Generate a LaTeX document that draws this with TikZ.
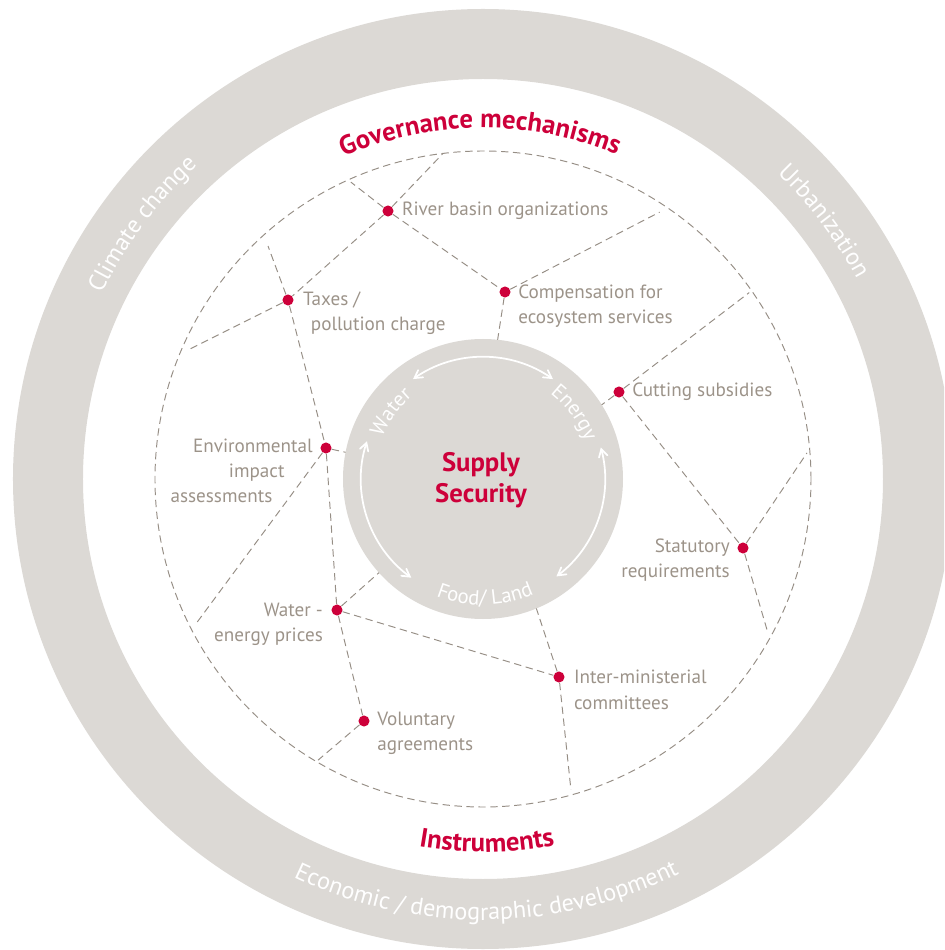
\documentclass[tikz,border=0pt]{standalone}
\usepackage{fontspec}
\setmainfont{PT Sans}
\usetikzlibrary{arrows,positioning,decorations.text}

\definecolor{ringgray}{RGB}{220,217,213}
\definecolor{labelgray}{RGB}{156,147,137}
\definecolor{linegray}{RGB}{150,142,133}
\definecolor{lancetred}{RGB}{205,0,58}

\newcommand\headsize{\fontsize{15.2}{18}\selectfont}
\newcommand\ringsize{\fontsize{13.8}{16}\selectfont}
\newcommand\hubsize{\fontsize{11.8}{14}\selectfont}

\begin{document}
\begin{tikzpicture}[x=0.02cm,y=0.02cm]

	\tikzstyle grid lines=[linegray, line width=0.55pt, dash pattern=on 4.2pt off 2.6pt];
	\tikzstyle instrument dots=[circle, fill=lancetred, inner sep=0pt, minimum size=6.3pt];
	\tikzstyle label text=[labelgray, inner sep=0pt, font=\fontsize{10.9}{14.5}\selectfont];
	\tikzstyle disc arrows=[white, line width=1pt, <->, >=angle 60];

	\clip (-483,-471) rectangle (461,479);

	% drivers ring, instruments circle and hub
	\fill[ringgray, even odd rule] (0,0) circle (470) (0,0) circle (400);
	\draw[grid lines] (0,0) circle (328);
	\fill[ringgray] (0,0) circle (140);

	\foreach \a/\b in {125/55, 162/234, 15/-53}
		\draw[disc arrows] (\a:122) arc[start angle=\a, end angle=\b, radius=122];

	\foreach \name/\x/\y in {river/-95/268, taxes/-195/179, comp/22/187, cutting/136/87, env/-157/31, waterenergy/-146/-131, voluntary/-119/-242, statutory/260/-69, interministerial/76/-198}
		\node[instrument dots] (\name) at (\x,\y) {};

	\foreach \name/\a/\r in {rimA/97/328, rimB/114/325, rimC/132.7/317, rimD/156.6/323, rimE/56.5/320, rimF/35/325, rimG/4.6/325, rimH/-28.4/324, rimI/206.9/323, rimJ/239.6/326, rimK/-74.2/323, hubA/84/140, hubB/32/140, hubC/169/140, hubD/222/140, hubE/292.4/140}
		\coordinate (\name) at (\a:\r);

	\foreach \s/\t in {river/taxes, river/comp, river/rimA, river/rimB, taxes/env, taxes/rimC, taxes/rimD, comp/rimE, comp/hubA, cutting/rimF, cutting/hubB, cutting/statutory, statutory/rimG, statutory/rimH, env/hubC, env/rimI, env/waterenergy, waterenergy/hubD, waterenergy/interministerial, waterenergy/voluntary, voluntary/rimJ, interministerial/hubE, interministerial/rimK}
		\draw[grid lines] (\s) -- (\t);

	\node[label text, right=4.5pt of river] (riverlabel) {River basin organizations};
	\node[label text, align=left, right=5pt of taxes, yshift=-7.4pt] (taxeslabel) {Taxes /\\\hspace*{4.5pt}pollution charge};
	\node[label text, align=left, right=4pt of comp, yshift=-8.2pt] (complabel) {Compensation for\\ecosystem services};
	\node[label text, right=4pt of cutting] (cuttinglabel) {Cutting subsidies};
	\node[label text, align=right, left=4pt of env, yshift=-13pt] (envlabel) {Environmental\\impact\hbox to 16pt{}\\assessments\hbox to 23pt{}};
	\node[label text, align=right, left=4.5pt of waterenergy, yshift=-8.2pt] (waterenergylabel) {Water -\\energy prices};
	\node[label text, align=left, right=4pt of voluntary, yshift=-7pt] (voluntarylabel) {Voluntary\\agreements};
	\node[label text, align=right, left=4pt of statutory, yshift=-6.8pt] (statutorylabel) {Statutory\\requirements};
	\node[label text, align=left, right=5pt of interministerial, yshift=-7.4pt] (interministeriallabel) {Inter-ministerial\\committees};

	\node[lancetred, align=center, font=\bfseries\fontsize{15.2}{17.8}\selectfont] (supply) at (-2,-1) {Supply\\Security};

	% curved titles
	\path[decorate, decoration={text along path, text align=center, text color=lancetred, text={|\bfseries\headsize|Governance mechanisms}}] (150:351) arc[start angle=150, end angle=31, radius=351];
	\path[decorate, decoration={text along path, text align=center, text color=lancetred, text={|\bfseries\headsize|Instruments}}] (240.6:373) arc[start angle=240.6, end angle=300.6, radius=373];
	\path[decorate, decoration={text along path, text align=center, text color=white, text={|\ringsize|Climate change}}] (180:424) arc[start angle=180, end angle=106.4, radius=424];
	\path[decorate, decoration={text along path, text align=center, text color=white, text={|\ringsize|Urbanization}}] (74:424) arc[start angle=74, end angle=0.2, radius=424];
	\path[decorate, decoration={text along path, text align=center, text color=white, text={|\ringsize|Economic / demographic development}}] (220.5:441) arc[start angle=220.5, end angle=320.5, radius=441];
	\path[decorate, decoration={text along path, text align=center, text color=white, text={|\hubsize|Water}}] (175:109) arc[start angle=175, end angle=113, radius=109];
	\path[decorate, decoration={text along path, text align=center, text color=white, text={|\hubsize|Energy}}] (67:109) arc[start angle=67, end angle=5, radius=109];
	\path[decorate, decoration={text along path, text align=center, text color=white, text={|\hubsize|Food/ Land}}] (231:126) arc[start angle=231, end angle=311, radius=126];

\end{tikzpicture}
\end{document}
